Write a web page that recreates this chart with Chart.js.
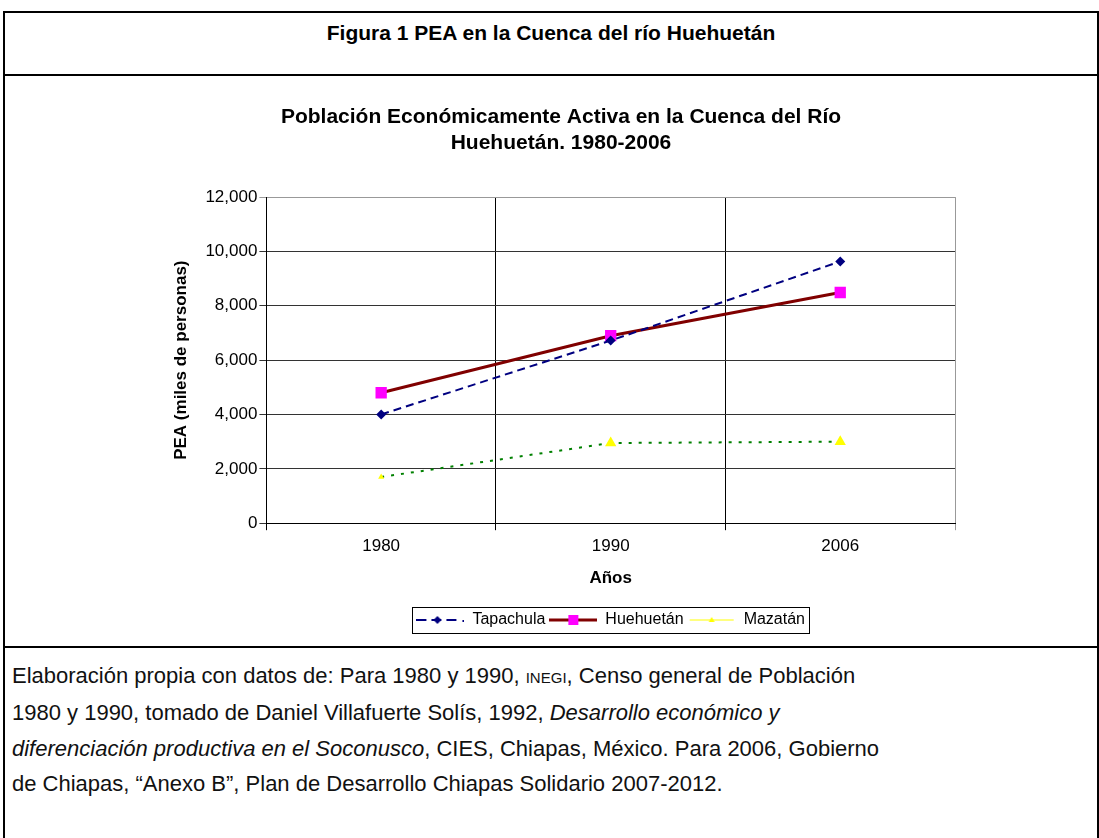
<!DOCTYPE html>
<html>
<head>
<meta charset="utf-8">
<script src="https://cdn.jsdelivr.net/npm/chart.js@4.4.1/dist/chart.umd.min.js"></script>
<style>
  body { margin: 0; background: #fff; font-family: "Liberation Sans", Arial, sans-serif; }
  #frame { position: absolute; left: 3px; top: 11px; width: 1092px; height: 840px; border: 2px solid #000; border-bottom: none; }
  #head { position: absolute; left: 0; top: 0; width: 100%; height: 61px; border-bottom: 2px solid #000; text-align: center; font-weight: bold; font-size: 21px; line-height: 40px; }
  #chartBox { position: absolute; left: 0; top: 63px; width: 100%; height: 570px; border-bottom: 2px solid #000; }
  #note { position: absolute; left: 7px; top: 645px; font-size: 22px; line-height: 35.3px; color: #111; }
  .sc { font-size: 15px; }
</style>
</head>
<body>
<div id="frame">
  <div id="head">Figura 1 PEA en la Cuenca del río Huehuetán</div>
  <div id="chartBox"><canvas id="chart1" width="1092" height="570"></canvas></div>
  <div id="note">Elaboración propia con datos de: Para 1980 y 1990, <span class="sc">INEGI</span>, Censo general de Población<br>1980 y 1990, tomado de Daniel Villafuerte Solís, 1992, <i>Desarrollo económico y</i><br><i>diferenciación productiva en el Soconusco</i>, CIES, Chiapas, México. Para 2006, Gobierno<br>de Chiapas, “Anexo B”, Plan de Desarrollo Chiapas Solidario 2007-2012.</div>
</div>
<script>
// values (miles de personas)
const years = ['1980', '1990', '2006'];
const tapachula = [4000, 6720, 9630];
const huehuetan = [4800, 6900, 8490];
const mazatan = [1700, 2950, 3000];
const yTicks = [0, 2000, 4000, 6000, 8000, 10000, 12000];

// small legend pictures: line with marker, like the Excel legend
function legendIcon(lineColor, dash, lineWidth, marker, markerColor, size) {
    const c = document.createElement('canvas');
    c.width = 48; c.height = 16;
    const g = c.getContext('2d');
    g.strokeStyle = lineColor;
    g.lineWidth = lineWidth;
    g.setLineDash(dash);
    g.fillStyle = markerColor;
    g.beginPath();
    if (marker === 'diamond') {
        g.moveTo(0, 8); g.lineTo(42, 8); g.stroke();
        g.beginPath();
        g.moveTo(21, 8 - size); g.lineTo(21 + size, 8); g.lineTo(21, 8 + size); g.lineTo(21 - size, 8);
        g.closePath(); g.fill();
        g.fillRect(46, 8, 2, 2);
    } else if (marker === 'square') {
        g.moveTo(0, 8); g.lineTo(48, 8); g.stroke();
        g.beginPath();
        g.rect(24 - size, 8 - size, size * 2, size * 2);
        g.closePath(); g.fill();
    } else {
        g.moveTo(2, 8); g.lineTo(46, 8); g.stroke();
        g.beginPath();
        g.moveTo(24, 8 - size); g.lineTo(24 + size, 8 + size * 0.7); g.lineTo(24 - size, 8 + size * 0.7);
        g.closePath(); g.fill();
    }
    return c;
}
const icons = [
    legendIcon('#000080', [10, 5], 2, 'diamond', '#000080', 4),
    legendIcon('#800000', [], 3, 'square', '#ff00ff', 5),
    legendIcon('#ffff00', [], 1, 'triangle', '#ffff00', 3)
];

const legendBorder = {
    id: 'legendBorder',
    afterDraw(chart) {
        const boxes = chart.legend.legendHitBoxes;
        if (!boxes || !boxes.length) return;
        const left = boxes[0].left - 4;
        const last = boxes[boxes.length - 1];
        const right = last.left + last.width + 4;
        const mid = boxes[0].top + boxes[0].height / 2;
        const ctx = chart.ctx;
        ctx.save();
        ctx.strokeStyle = '#000';
        ctx.lineWidth = 1;
        ctx.strokeRect(Math.round(left) + 0.5, Math.round(mid - 13) + 0.5, Math.round(right - left), 26);
        ctx.restore();
    }
};

document.addEventListener("DOMContentLoaded", function() {
    const ctx1 = document.getElementById('chart1').getContext('2d');
    new Chart(ctx1, {
        type: 'line',
        data: {
            labels: years,
            datasets: [{
                label: 'Tapachula',
                data: tapachula,
                borderColor: '#000080',
                backgroundColor: '#000080',
                borderWidth: 2,
                borderDash: [8, 5],
                pointStyle: 'rectRot',
                pointRadius: 5,
                pointBorderWidth: 0
            }, {
                label: 'Huehuetán',
                data: huehuetan,
                borderColor: '#800000',
                backgroundColor: '#ff00ff',
                borderWidth: 3,
                pointStyle: 'rect',
                pointRadius: 8,
                pointBorderWidth: 0
            }, {
                label: 'Mazatán',
                data: mazatan,
                borderColor: '#008000',
                backgroundColor: '#ffff00',
                borderWidth: 2,
                borderDash: [3, 7],
                pointStyle: 'triangle',
                pointRadius: [3.5, 6.5, 6.5],
                pointBorderWidth: 0
            }]
        },
        options: {
            responsive: false,
            animation: false,
            layout: { padding: { left: 162, right: 142, top: 28, bottom: 8 } },
            plugins: {
                tooltip: { enabled: false },
                title: {
                    display: true,
                    text: ['Población Económicamente Activa en la Cuenca del Río', 'Huehuetán. 1980-2006'],
                    color: '#000',
                    font: { family: 'Liberation Sans', size: 21, weight: 'bold', lineHeight: 1.24 },
                    padding: { top: 0, bottom: 41 }
                },
                legend: {
                    position: 'bottom',
                    fullSize: false,
                    labels: {
                        color: '#000',
                        font: { family: 'Liberation Sans', size: 16 },
                        usePointStyle: true,
                        pointStyleWidth: 48,
                        padding: 4,
                        generateLabels: function(chart) {
                            return chart.data.datasets.map(function(ds, i) {
                                return { text: ds.label, pointStyle: icons[i], datasetIndex: i, fontColor: '#000', lineWidth: 0, strokeStyle: 'transparent', fillStyle: 'transparent' };
                            });
                        }
                    }
                }
            },
            scales: {
                x: {
                    offset: true,
                    grid: {
                        offset: true,
                        color: function(c) { return c.type === 'tick' ? '#000' : '#999'; },
                        tickLength: 7
                    },
                    border: { color: '#000' },
                    ticks: { color: '#000', font: { family: 'Liberation Sans', size: 17 }, padding: 6 },
                    title: { display: true, text: 'Años', color: '#000', font: { family: 'Liberation Sans', size: 17, weight: 'bold' }, padding: { top: 6, bottom: 19 } }
                },
                y: {
                    min: 0,
                    max: 12000,
                    afterBuildTicks: function(scale) { scale.ticks = yTicks.map(function(v) { return { value: v }; }); },
                    grid: {
                        color: function(c) { return c.tick && c.tick.value === 12000 ? '#999' : '#333'; },
                        tickLength: 7
                    },
                    border: { color: '#000' },
                    ticks: {
                        color: '#000',
                        font: { family: 'Liberation Sans', size: 17 },
                        padding: 2,
                        callback: function(value) { return value.toLocaleString('en-US'); }
                    },
                    title: { display: true, text: 'PEA (miles de personas)', color: '#000', font: { family: 'Liberation Sans', size: 17, weight: 'bold' }, padding: { bottom: 12 } }
                }
            }
        },
        plugins: [legendBorder]
    });
});
</script>
</body>
</html>
